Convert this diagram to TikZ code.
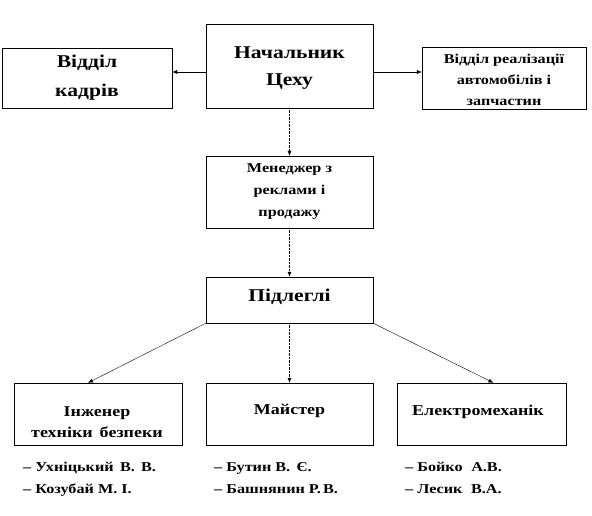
\documentclass[tikz,border=0pt]{standalone}
\usepackage{fontspec}
\setmainfont[FakeStretch=1.2]{Liberation Serif}
\usetikzlibrary{arrows.meta, calc}

\begin{document}
\begin{tikzpicture}[x=1pt, y=-1pt,
            box/.style={rectangle, draw=black, thin},
            txt/.style={align=center, inner sep=0pt},
            big/.style={txt, font=\bfseries\fontsize{18}{27}\selectfont},
            small/.style={txt, font=\bfseries\fontsize{13.5}{21}\selectfont},
            mid/.style={txt, font=\bfseries\fontsize{15}{21}\selectfont},
            names/.style={align=left, anchor=north west, inner sep=0pt, font=\bfseries\fontsize{13.5}{22}\selectfont},
            link/.style={-{Latex[length=5pt, width=4pt]}, thin},
            vlink/.style={link, densely dotted}
        ]
            \useasboundingbox (0,0) rectangle (592,516);

            % Top row
            \node[box, minimum width=167, minimum height=84] (chief) at (289.5,66) {};
            \node[big] (chieft) at ([yshift=-2.5]chief) {Начальник\\Цеху};
            \node[box, minimum width=170, minimum height=60] (kadry) at (87,78) {};
            \node[big, font=\bfseries\fontsize{18}{29}\selectfont] (kadryt) at (kadry) {Відділ\\кадрів};
            \node[box, minimum width=164, minimum height=62] (sales) at (504,78) {};
            \node[small] (salest) at ([yshift=-2]sales) {Відділ реалізації\\автомобілів і\\запчастин};

            % Middle
            \node[box, minimum width=167, minimum height=72] (manager) at (289.5,192) {};
            \node[small, font=\bfseries\fontsize{13.5}{22}\selectfont] (managert) at (manager) {Менеджер з\\реклами і\\продажу};
            \node[box, minimum width=167, minimum height=46] (sub) at (289.5,300) {};
            \node[big] (subt) at (289.5,297) {Підлеглі};

            % Bottom row
            \node[box, minimum width=168, minimum height=62] (eng) at (98,414) {};
            \node[mid] (engt) at (97,422) {Інженер\\техніки\, безпеки};
            \node[box, minimum width=167, minimum height=62] (master) at (289.5,414) {};
            \node[mid] (mastert) at (289.5,411) {Майстер};
            \node[box, minimum width=169, minimum height=62] (elec) at (481.5,414) {};
            \node[mid] (elect) at (478,412) {Електромеханік};

            % Links
            \coordinate (cl) at ([yshift=-6]chief.west);
            \coordinate (cr) at ([yshift=-6]chief.east);
            \draw[link] (cl) -- (cl -| kadry.east);
            \draw[link] (cr) -- (cr -| sales.west);
            \draw[vlink] (chief.south) -- (manager.north);
            \draw[vlink] (manager.south) -- (sub.north);
            \draw[link] (sub.south west) -- ([xshift=-10]eng.north);
            \draw[vlink] (sub.south) -- (master.north);
            \draw[link] (sub.south east) -- ([xshift=12]elec.north);

            % Staff
            \node[names] (engnames) at (23,462) {– Ухніцький\, В.\, В.\\– Козубай М. І.};
            \node[names] (masternames) at (214,462) {– Бутин В.\, Є.\\– Башнянин Р.\,В.};
            \node[names] (elecnames) at (405,462) {– Бойко\, \,А.В.\\– Лесик\, \,В.А.};
        \end{tikzpicture}
\end{document}
